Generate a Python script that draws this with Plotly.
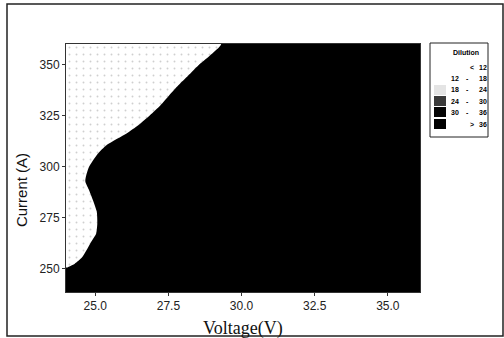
import plotly.graph_objects as go

# Axis limits (V, A)
V_RANGE = [24.0, 36.1]
I_RANGE = [238.5, 360.0]

# Boundary between the light (18-24) region and the dark (> 36) region
boundary_current = [360, 354.4, 349.5, 344.6, 339.8, 334.9, 330, 325.1, 320.2, 316.2, 310.6,
                    305.7, 299.2, 292.7, 288, 278, 272, 267, 263.7, 255.5, 252.4, 250.5]
boundary_voltage = [29.3, 28.92, 28.52, 28.18, 27.84, 27.53, 27.23, 26.87, 26.47, 26.07, 25.4,
                    25.06, 24.77, 24.66, 24.8, 25.05, 25.07, 25.03, 24.89, 24.55, 24.3, 24.03]

x_ticks = [25.0, 27.5, 30.0, 32.5, 35.0]
y_ticks = [250, 275, 300, 325, 350]

legend_low = ["<", "12", "18", "24", "30", ">"]
legend_high = ["12", "18", "24", "30", "36", "36"]
legend_colors = [None, "#ffffff", "#e4e4e4", "#3a3a3a", "#050505", "#000000"]

fig = go.Figure()

poly_v = [V_RANGE[0]] + boundary_voltage + [V_RANGE[0], V_RANGE[0]]
poly_i = [I_RANGE[1]] + boundary_current + [boundary_current[-1], I_RANGE[1]]
fig.add_trace(go.Scatter(
    x=poly_v, y=poly_i, mode="lines", fill="toself",
    line=dict(width=0, color="white", shape="spline", smoothing=0.6),
    fillcolor="white",
    fillpattern=dict(shape=".", fgcolor="#a0a0a0", bgcolor="white", size=7, solidity=0.06),
    hoverinfo="skip", showlegend=False))

fig.update_layout(
    width=504, height=338,
    margin=dict(l=66, r=84, t=44, b=46),
    paper_bgcolor="white", plot_bgcolor="black",
    showlegend=False,
    font=dict(family="Liberation Sans", size=11, color="#222"),
)
fig.update_xaxes(range=V_RANGE, tickvals=x_ticks, ticktext=[f"{v:.1f}" for v in x_ticks],
                 ticks="outside", ticklen=3, tickcolor="#333", showgrid=False, zeroline=False,
                 showline=True, linecolor="#333", linewidth=1, mirror=True,
                 tickfont=dict(size=12, family="Liberation Sans", color="#222"))
fig.update_yaxes(range=I_RANGE, tickvals=y_ticks, ticks="outside", ticklen=3, tickcolor="#333",
                 showgrid=False, zeroline=False, showline=True, linecolor="#333", linewidth=1,
                 mirror=True, tickfont=dict(size=12, family="Liberation Sans", color="#222"))

# axis titles
fig.add_annotation(text="Voltage(V)", xref="paper", yref="paper", x=0.5, y=-0.095,
                   yanchor="top", xanchor="center", showarrow=False,
                   font=dict(family="Liberation Serif", size=18, color="#111"))
fig.add_annotation(text="Current (A)", xref="paper", yref="paper", x=-0.125, y=0.41,
                   textangle=-90, xanchor="center", yanchor="middle", showarrow=False,
                   font=dict(family="Liberation Sans", size=15, color="#111"))


def px_x(p):
    return (p - 66) / 354.0


def px_y(p):
    return (292 - p) / 248.0


# outer frame
fig.add_shape(type="rect", xref="paper", yref="paper",
              x0=px_x(7), x1=px_x(503), y0=px_y(336), y1=px_y(4),
              line=dict(color="#222", width=1.5), fillcolor="rgba(0,0,0,0)", layer="below")

# legend box
fig.add_shape(type="rect", xref="paper", yref="paper",
              x0=px_x(430), x1=px_x(488), y0=px_y(137), y1=px_y(43),
              line=dict(color="#222", width=1), fillcolor="white")
fig.add_annotation(text="<b>Dilution</b>", xref="paper", yref="paper", x=px_x(466), y=px_y(53),
                   showarrow=False, xanchor="center", yanchor="middle",
                   font=dict(size=7, family="Liberation Sans", color="#000"))
row_y = [67, 78, 90, 101, 112, 124]
lf = dict(size=7, family="Liberation Sans", color="#000")
for k, (lo, hi, col) in enumerate(zip(legend_low, legend_high, legend_colors)):
    yy = row_y[k]
    if col is not None and k >= 2:
        fig.add_shape(type="rect", xref="paper", yref="paper",
                      x0=px_x(434), x1=px_x(446), y0=px_y(yy + 5), y1=px_y(yy - 5),
                      line=dict(width=0), fillcolor=col)
    if lo in ("<", ">"):
        fig.add_annotation(text=f"<b>{lo}</b>", xref="paper", yref="paper", x=px_x(472), y=px_y(yy),
                           showarrow=False, xanchor="center", yanchor="middle", font=lf)
    else:
        fig.add_annotation(text=f"<b>{lo}</b>", xref="paper", yref="paper", x=px_x(455), y=px_y(yy),
                           showarrow=False, xanchor="center", yanchor="middle", font=lf)
        fig.add_annotation(text="<b>-</b>", xref="paper", yref="paper", x=px_x(467), y=px_y(yy),
                           showarrow=False, xanchor="center", yanchor="middle", font=lf)
    fig.add_annotation(text=f"<b>{hi}</b>", xref="paper", yref="paper", x=px_x(483), y=px_y(yy),
                       showarrow=False, xanchor="center", yanchor="middle", font=lf)

fig.write_html("out.html", config={"displayModeBar": False},
               post_script="document.body.style.margin='0';")
